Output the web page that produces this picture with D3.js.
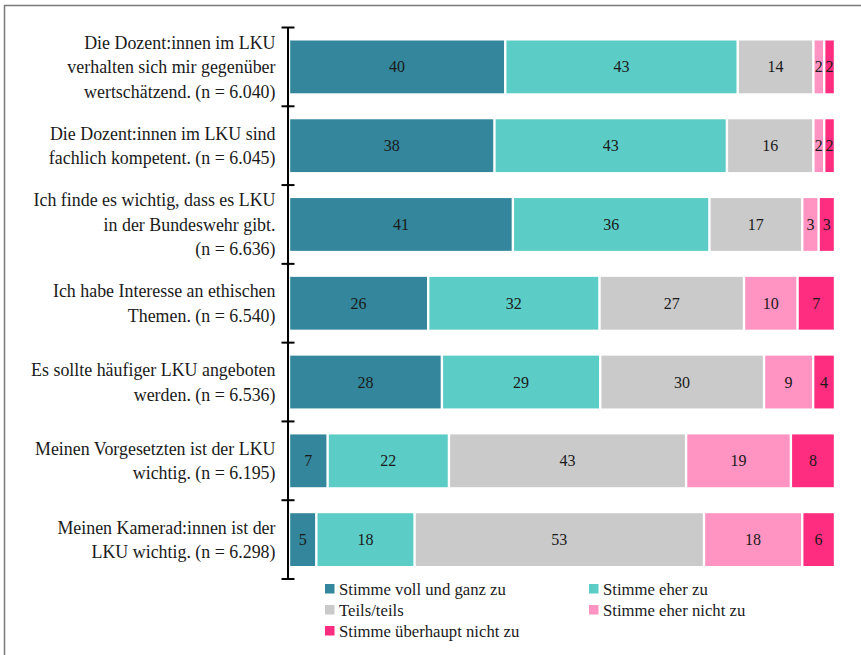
<!DOCTYPE html>
<html><head><meta charset="utf-8">
<script src="https://cdn.jsdelivr.net/npm/d3@7"></script>
<style>body{margin:0;background:#fff}svg{display:block}</style>
</head><body>
<svg id="c" width="861" height="655"></svg>
<script>
const categories = [
  ["Die Dozent:innen im LKU","verhalten sich mir gegenüber","wertschätzend. (n = 6.040)"],
  ["Die Dozent:innen im LKU sind","fachlich kompetent. (n = 6.045)"],
  ["Ich finde es wichtig, dass es LKU","in der Bundeswehr gibt.","(n = 6.636)"],
  ["Ich habe Interesse an ethischen","Themen. (n = 6.540)"],
  ["Es sollte häufiger LKU angeboten","werden. (n = 6.536)"],
  ["Meinen Vorgesetzten ist der LKU","wichtig. (n = 6.195)"],
  ["Meinen Kamerad:innen ist der","LKU wichtig. (n = 6.298)"]
];
const seriesNames = ["Stimme voll und ganz zu","Stimme eher zu","Teils/teils","Stimme eher nicht zu","Stimme überhaupt nicht zu"];
const vollUndGanz = [40,38,41,26,28,7,5];
const eherZu      = [43,43,36,32,29,22,18];
const teilsTeils  = [14,16,17,27,30,43,53];
const eherNicht   = [2,2,3,10,9,19,18];
const ueberhauptNicht = [2,2,3,7,4,8,6];
const colors = ["#33869b","#5bccc6","#cacaca","#ff93c1","#ff2d7f"];

const series = [vollUndGanz, eherZu, teilsTeils, eherNicht, ueberhauptNicht];
const svg = d3.select("#c");
const font = "'Liberation Serif','DejaVu Serif',serif";

// frame
svg.append("rect").attr("x",4.5).attr("y",5.5).attr("width",900).attr("height",700)
  .attr("fill","none").attr("stroke","#7a7a7a").attr("stroke-width",1.5);

const y = d3.scaleBand().domain(d3.range(categories.length)).range([27.5,579]).paddingInner(0.33).paddingOuter(0.165);
const x = d3.scaleLinear().domain([0,100]).range([289,835]);

const rows = categories.map((c,i)=>{
  const vals = series.map(s=>s[i]);
  const tot = d3.sum(vals);
  let acc = 0;
  return vals.map((v,k)=>{ const s = acc/tot*100; acc += v; return {i,k,v,s,e:acc/tot*100}; });
});

const g = svg.append("g");
rows.forEach(r=>{
  g.selectAll(null).data(r).enter().append("rect")
    .attr("x",d=>x(d.s)+1.2).attr("width",d=>x(d.e)-x(d.s)-2.4)
    .attr("y",d=>y(d.i)).attr("height",y.bandwidth())
    .attr("fill",d=>colors[d.k]);
  g.selectAll(null).data(r).enter().append("text")
    .attr("x",d=>(x(d.s)+x(d.e))/2).attr("y",d=>y(d.i)+y.bandwidth()/2)
    .attr("dy","0.35em").attr("text-anchor","middle")
    .style("font-family",font).style("font-size","16px").attr("fill","#1a1a1a")
    .text(d=>d.v);
});

// axis
const ax = svg.append("g");
ax.append("line").attr("x1",288).attr("x2",288).attr("y1",27.5).attr("y2",579).attr("stroke","#000").attr("stroke-width",2);
const tickY = d3.range(categories.length+1).map(i=>27.5 + i*y.step());
ax.selectAll(null).data(tickY).enter().append("line")
  .attr("x1",281.5).attr("x2",294.5).attr("y1",d=>d).attr("y2",d=>d).attr("stroke","#000").attr("stroke-width",2);

// labels
const lh = 24.5;
categories.forEach((lines,i)=>{
  const cy = y(i)+y.bandwidth()/2;
  svg.append("text").attr("text-anchor","end")
    .style("font-family",font).style("font-size","17.9px").attr("fill","#1a1a1a")
    .selectAll("tspan").data(lines).enter().append("tspan")
    .attr("x",275.5).attr("y",(d,j)=>cy+(j-(lines.length-1)/2)*lh).attr("dy","0.35em")
    .text(d=>d);
});

// legend
const legPos = [[325,589],[589,589],[325,610],[589,610],[325,631]];
seriesNames.forEach((n,k)=>{
  const [lx,ly] = legPos[k];
  svg.append("rect").attr("x",lx).attr("y",ly-5).attr("width",9.5).attr("height",9.5).attr("fill",colors[k]);
  svg.append("text").attr("x",lx+14).attr("y",ly).attr("dy","0.35em")
    .style("font-family",font).style("font-size","16.7px").attr("fill","#1a1a1a").text(n);
});
</script>
</body></html>
